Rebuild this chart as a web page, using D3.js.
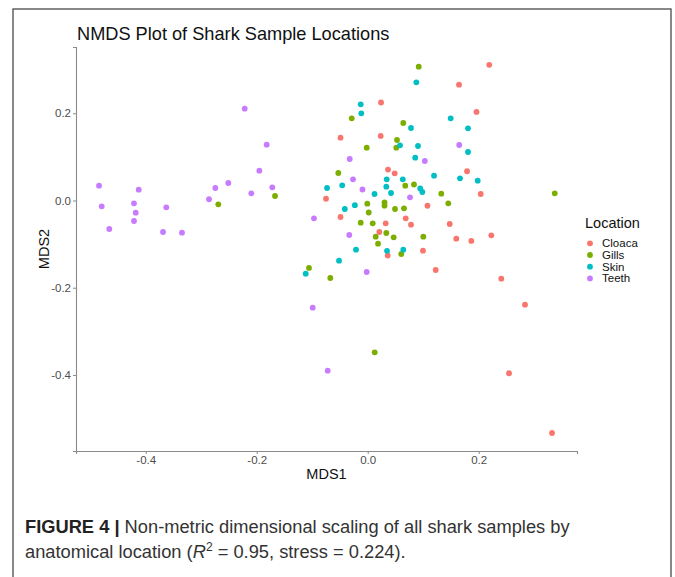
<!DOCTYPE html>
<html>
<head>
<meta charset="utf-8">
<script src="https://cdn.jsdelivr.net/npm/d3@7"></script>
<style>
  html, body { margin: 0; padding: 0; background: #fff; }
  svg { display: block; font-family: "Liberation Sans", Arial, sans-serif; }
</style>
</head>
<body>
<svg id="chart" width="675" height="577"></svg>
<script>
// ---- Data (MDS1, MDS2) ----
const locations = ["Cloaca", "Gills", "Skin", "Teeth"];
const colors = ["#F8766D", "#7CAE00", "#00BFC4", "#C77CFF"];

const cloaca = [
  [0.219, 0.311], [0.1645, 0.2655], [0.024, 0.2247], [0.196, 0.203], [-0.049, 0.144],
  [0.0234, 0.148], [0.179, 0.067], [0.0366, 0.071], [0.0486, 0.0624], [0.2036, 0.0149],
  [-0.0751, 0.004], [0.1077, -0.012], [-0.049, -0.0378], [0.0685, -0.0408], [0.0324, -0.0523],
  [0.078, -0.0555], [0.1477, -0.0539], [0.0209, -0.0722], [0.1596, -0.0876], [0.1867, -0.0928],
  [0.2227, -0.0798], [0.0996, -0.1151], [0.036, -0.1261], [0.1225, -0.1593], [0.2407, -0.1793],
  [0.2834, -0.2389], [0.2546, -0.3961], [0.3321, -0.533]
];
const gills = [
  [0.0919, 0.3067], [-0.0288, 0.1884], [0.0641, 0.1777], [0.0528, 0.1387], [0.0515, 0.121],
  [-0.0018, 0.121], [-0.053, 0.063], [0.0677, 0.0339], [0.0834, 0.0367], [0.1326, 0.0156],
  [0.337, 0.0165], [-0.0007, -0.0073], [0.0303, -0.0046], [0.0303, -0.0119], [0.1452, -0.0064],
  [0.0492, -0.0195], [0.0654, -0.0179], [0.0018, -0.0275], [-0.0126, -0.0509], [0.009, -0.0523],
  [0.0335, -0.0745], [0.0144, -0.083], [0.0468, -0.0844], [0.1002, -0.083], [0.0186, -0.099],
  [0.0605, -0.1227], [-0.1058, -0.1547], [-0.0674, -0.1777], [0.0126, -0.348], [-0.2692, -0.0087],
  [-0.167, 0.0103]
];
const skin = [
  [0.0876, 0.271], [-0.0126, 0.2205], [-0.0115, 0.1999], [0.1495, 0.1884], [0.1807, 0.1655],
  [0.078, 0.1662], [0.0582, 0.1265], [0.0906, 0.1249], [0.1807, 0.1112], [0.0856, 0.0981],
  [0.1195, 0.0569], [0.0342, 0.0486], [0.0632, 0.0486], [0.1663, 0.0509], [0.1982, 0.0454],
  [-0.0459, 0.0348], [-0.0733, 0.0287], [0.0335, 0.0316], [0.0946, 0.0275], [0.0984, 0.0195],
  [0.0123, 0.0149], [0.042, 0.0172], [-0.0232, -0.0108], [-0.0413, -0.0195], [-0.0211, -0.1128],
  [0.0348, -0.1153], [0.0641, -0.1128], [-0.0517, -0.138], [-0.1117, -0.1678]
];
const teeth = [
  [-0.4841, 0.0339], [-0.4793, -0.0133], [-0.4656, -0.0653], [-0.4126, 0.0248], [-0.4211, -0.0064],
  [-0.418, -0.028], [-0.4211, -0.047], [-0.3629, -0.0156], [-0.3688, -0.0722], [-0.3346, -0.0738],
  [-0.2859, 0.0028], [-0.2746, 0.0287], [-0.2512, 0.0401], [-0.2216, 0.2105], [-0.182, 0.1279],
  [-0.1953, 0.0683], [-0.2097, 0.0165], [-0.1719, 0.0303], [0.1649, 0.1272], [-0.0324, 0.0951],
  [0.1029, 0.0906], [-0.0265, 0.0486], [-0.0094, 0.0252], [0.0762, 0.0073], [-0.0968, -0.0408],
  [-0.0332, -0.0791], [-0.0018, -0.1639], [-0.0991, -0.2458], [-0.0721, -0.3902]
];
const xTicks = [-0.4, -0.2, 0.0, 0.2];
const yTicks = [0.2, 0.0, -0.2, -0.4];

const seriesData = [cloaca, gills, skin, teeth];

// ---- Layout ----
const svg = d3.select("#chart");
const panel = { left: 76, right: 577, top: 47, bottom: 451 };

// Outer figure frame
svg.append("rect")
  .attr("x", 13).attr("y", 9).attr("width", 658).attr("height", 600)
  .attr("fill", "none").attr("stroke", "#4a4a4a").attr("stroke-width", 1.3);

const x = d3.scaleLinear().domain([-0.5256, 0.3771]).range([panel.left, panel.right]);
const y = d3.scaleLinear().domain([-0.5743, 0.3519]).range([panel.bottom, panel.top]);

const fmt = d => d3.format(".1f")(d).replace("−", "-");

// X axis
const gx = svg.append("g").attr("transform", `translate(0,${panel.bottom})`)
  .call(d3.axisBottom(x).tickValues(xTicks).tickFormat(fmt).tickSizeOuter(0).tickSize(3).tickPadding(2));
// Y axis
const gy = svg.append("g").attr("transform", `translate(${panel.left},0)`)
  .call(d3.axisLeft(y).tickValues(yTicks).tickFormat(fmt).tickSizeOuter(0).tickSize(3).tickPadding(2));

[gx, gy].forEach(g => {
  g.select(".domain").attr("stroke", "#8a8a8a").attr("stroke-width", 1.1);
  g.selectAll(".tick line").attr("stroke", "#8a8a8a").attr("stroke-width", 1);
  g.selectAll(".tick text").attr("fill", "#4d4d4d").style("font-size", "11.5px")
    .style("font-family", "'Liberation Sans', Arial, sans-serif");
});

// Points
seriesData.forEach((pts, i) => {
  svg.append("g").selectAll("circle").data(pts).join("circle")
    .attr("cx", d => x(d[0])).attr("cy", d => y(d[1])).attr("r", 2.9)
    .attr("fill", colors[i]);
});

// Title
svg.append("text").attr("x", 77).attr("y", 40)
  .style("font-size", "18.2px").attr("fill", "#111")
  .text("NMDS Plot of Shark Sample Locations");

// Axis titles
svg.append("text").attr("x", (panel.left + panel.right) / 2).attr("y", 479)
  .attr("text-anchor", "middle").style("font-size", "14.5px").attr("fill", "#111").text("MDS1");
svg.append("text").attr("transform", `translate(49,${(panel.top + panel.bottom) / 2}) rotate(-90)`)
  .attr("text-anchor", "middle").style("font-size", "14.5px").attr("fill", "#111").text("MDS2");

// Legend
const lg = svg.append("g");
lg.append("text").attr("x", 585).attr("y", 228).style("font-size", "14.5px").attr("fill", "#111").text("Location");
locations.forEach((name, i) => {
  const cy = 243.3 + i * 11.7;
  lg.append("circle").attr("cx", 590).attr("cy", cy).attr("r", 2.9).attr("fill", colors[i]);
  lg.append("text").attr("x", 602).attr("y", cy + 4).style("font-size", "11.5px").attr("fill", "#111").text(name);
});

// Caption
const cap1 = svg.append("text").attr("x", 25).attr("y", 533).style("font-size", "18.3px").attr("fill", "#333");
cap1.append("tspan").attr("font-weight", "bold").attr("fill", "#222").text("FIGURE 4 | ");
cap1.append("tspan").text("Non-metric dimensional scaling of all shark samples by");
const cap2 = svg.append("text").attr("x", 25).attr("y", 558).style("font-size", "18.3px").attr("fill", "#333");
cap2.append("tspan").text("anatomical location (");
cap2.append("tspan").attr("font-style", "italic").text("R");
cap2.append("tspan").attr("dy", -7).style("font-size", "12px").text("2");
cap2.append("tspan").attr("dy", 7).text(" = 0.95, stress = 0.224).");
</script>
</body>
</html>
